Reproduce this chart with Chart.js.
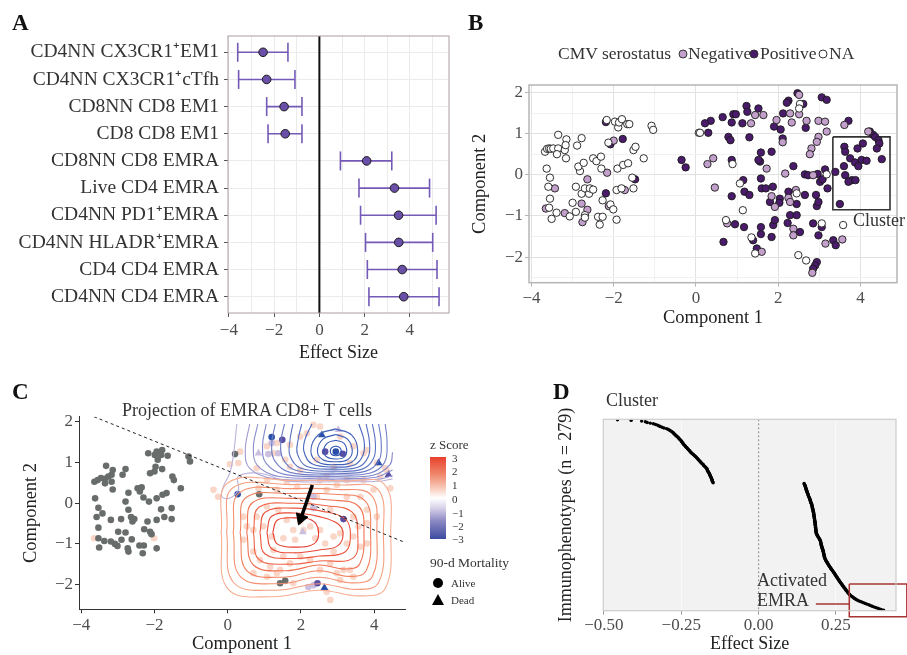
<!DOCTYPE html>
<html>
<head>
<meta charset="utf-8">
<script src="https://cdn.jsdelivr.net/npm/chart.js@4.4.1/dist/chart.umd.min.js"></script>
<style>
body { margin: 0; background: #fff; }
#wrap { position: relative; width: 907px; height: 655px; overflow: hidden; font-family: 'Liberation Serif', serif; color: #333; }
#wrap canvas { position: absolute; }
.t { position: absolute; white-space: nowrap; line-height: 1; transform: translateY(-50%); }
.letter { font-size: 23px; font-weight: bold; color: #111; }
.dot { position: absolute; width: 7px; height: 7px; border-radius: 50%; border: 1px solid #333; transform: translate(-50%, -50%); }
</style>
</head>
<body>
<div id="wrap">
  <canvas id="panelA" width="460" height="375" style="left:0;top:0"></canvas>
  <canvas id="panelB" width="457" height="330" style="left:450px;top:0"></canvas>
  <canvas id="panelC" width="520" height="280" style="left:0;top:375px"></canvas>
  <canvas id="panelD" width="387" height="280" style="left:520px;top:375px"></canvas>

  <div class="t letter" style="left:12px;top:22px">A</div>
  <div class="t letter" style="left:468px;top:22px">B</div>
  <div class="t letter" style="left:12px;top:391px">C</div>
  <div class="t letter" style="left:553px;top:391px">D</div>

  <!-- B legend -->
  <div class="t" style="left:558px;top:54px;font-size:17.5px">CMV serostatus</div>
  <div class="dot" style="left:683px;top:54px;background:#c3a0cb"></div>
  <div class="t" style="left:688px;top:54px;font-size:17.5px">Negative</div>
  <div class="dot" style="left:754px;top:54px;background:#4a1b6a"></div>
  <div class="t" style="left:760px;top:54px;font-size:17.5px">Positive</div>
  <div class="dot" style="left:823px;top:54px;background:#fff"></div>
  <div class="t" style="left:829px;top:54px;font-size:17.5px">NA</div>
  <div class="t" style="left:853px;top:220px;font-size:18px">Cluster</div>

  <!-- C title and legend -->
  <div class="t" style="left:247px;top:410px;font-size:18px;transform:translate(-50%,-50%)">Projection of EMRA CD8+ T cells</div>
  <div class="t" style="left:430px;top:444px;font-size:13px">z Score</div>
  <div style="position:absolute;left:430px;top:457px;width:16px;height:82px;background:linear-gradient(to bottom,#e8402d 0%,#f08a6e 22%,#f8cbbb 38%,#ffffff 50%,#d9d3ea 62%,#8c88c3 78%,#3c4b9f 100%)"></div>
  <div class="t" style="left:452px;top:458px;font-size:11px">3</div>
  <div class="t" style="left:452px;top:471px;font-size:11px">2</div>
  <div class="t" style="left:452px;top:485px;font-size:11px">1</div>
  <div class="t" style="left:452px;top:499px;font-size:11px">0</div>
  <div class="t" style="left:452px;top:513px;font-size:11px">&minus;1</div>
  <div class="t" style="left:452px;top:526px;font-size:11px">&minus;2</div>
  <div class="t" style="left:452px;top:539px;font-size:11px">&minus;3</div>
  <div class="t" style="left:430px;top:563px;font-size:13.5px">90-d Mortality</div>
  <div style="position:absolute;left:433px;top:578px;width:10px;height:10px;border-radius:50%;background:#000"></div>
  <div class="t" style="left:451px;top:583px;font-size:11px">Alive</div>
  <div style="position:absolute;left:432px;top:594px;width:0;height:0;border-left:6px solid transparent;border-right:6px solid transparent;border-bottom:11px solid #000"></div>
  <div class="t" style="left:451px;top:600px;font-size:11px">Dead</div>

  <!-- D labels -->
  <div class="t" style="left:606px;top:400px;font-size:18px">Cluster</div>
  <div class="t" style="left:757px;top:580px;font-size:18px">Activated</div>
  <div class="t" style="left:757px;top:600px;font-size:18px">EMRA</div>
</div>

<script>
// ---- panel A: effect sizes of immunophenotypes ----
const effectLabels = ['CD4NN CX3CR1\u207AEM1', 'CD4NN CX3CR1\u207AcTfh', 'CD8NN CD8 EM1', 'CD8 CD8 EM1',
  'CD8NN CD8 EMRA', 'Live CD4 EMRA', 'CD4NN PD1\u207AEMRA', 'CD4NN HLADR\u207AEMRA', 'CD4 CD4 EMRA', 'CD4NN CD4 EMRA'];
const effectEst = [-2.49, -2.33, -1.56, -1.51, 2.09, 3.32, 3.50, 3.51, 3.66, 3.73];
const effectLow = [-3.61, -3.57, -2.33, -2.27, 0.93, 1.75, 1.82, 2.04, 2.12, 2.19];
const effectHigh = [-1.39, -1.08, -0.77, -0.77, 3.20, 4.87, 5.16, 5.01, 5.20, 5.29];
const ticksA = [-4, -3, -2, -1, 0, 1, 2, 3, 4, 5];

// ---- panel B: CMV serostatus projection ----
const cmvNegative = [[-3.43,-0.33],[-3.65,-0.82],[-3.19,-0.93],[-2.76,-1.15],[-2.64,-0.85],[-2.78,-0.70],[-2.64,-0.11],
  [-2.16,0.05],[-2.12,-0.76],[-1.73,-0.37],[-2.0,0.83],[0.28,0.26],[2.51,1.94],[1.44,1.45],[1.64,1.45],[1.34,1.25],
  [2.29,1.49],[2.51,1.47],[1.96,1.33],[2.33,1.27],[2.69,1.31],[2.98,1.31],[3.14,1.29],[3.18,1.05],[2.98,0.92],[2.94,0.80],
  [2.81,0.64],[2.77,0.50],[3.61,1.21],[4.19,1.05],[2.11,0.79],[1.72,0.15],[2.17,0.03],[2.85,-0.01],[0.42,0.40],[0.46,-0.31],
  [1.84,-0.52],[1.92,-0.78],[2.25,-0.56],[2.43,-0.37],[2.29,-0.66],[0.76,-1.18],[2.37,-1.31],[2.37,-1.47],[3.15,-1.67],
  [3.56,-1.57],[1.60,-1.87],[2.83,-2.38]];
const cmvPositive = [[-2.19,-0.45],[-1.48,-0.11],[-2.19,1.28],[-2.08,0.74],[-1.78,0.87],[-0.35,0.36],[-0.25,0.18],
  [2.47,1.98],[2.25,1.80],[2.21,1.75],[2.61,1.72],[3.06,1.88],[3.18,1.82],[1.23,1.67],[1.52,1.61],[0.91,1.47],[0.97,1.47],
  [0.65,1.40],[0.36,1.31],[0.22,1.25],[0.87,1.27],[1.13,1.25],[1.25,1.53],[2.12,1.49],[1.90,1.17],[2.06,1.10],[2.67,1.14],
  [3.71,1.31],[4.23,1.05],[4.31,0.97],[4.36,0.92],[4.44,0.84],[4.46,0.76],[4.40,0.64],[4.52,0.38],[0.30,1.02],[0.79,0.92],
  [0.84,0.84],[1.30,0.91],[2.11,0.88],[1.58,0.54],[1.84,0.56],[1.56,0.32],[1.52,0.36],[2.37,0.21],[2.65,0.01],[2.73,-0.01],
  [2.96,0.02],[3.02,-0.17],[3.08,-0.11],[3.20,-0.33],[3.14,0.13],[3.39,0.07],[3.61,0.68],[3.63,0.56],[3.75,0.40],[3.60,0.21],
  [3.87,0.30],[4.03,0.36],[4.15,0.34],[4.06,0.76],[3.93,0.64],[3.95,0.21],[3.63,-0.01],[3.79,-0.13],[3.71,-0.17],[3.88,-0.13],
  [3.50,-0.71],[0.87,0.36],[1.15,-0.13],[0.87,-0.52],[1.18,-0.41],[1.30,-0.49],[1.58,-0.09],[1.60,-0.33],[1.70,-0.33],
  [1.87,-0.29],[1.80,-0.66],[2.04,-0.58],[2.03,-0.68],[2.25,-0.41],[2.45,-0.71],[2.65,-0.49],[2.92,-0.49],[2.94,-0.76],
  [2.98,-0.66],[0.95,-1.20],[1.17,-1.27],[1.58,-1.27],[1.88,-1.22],[1.92,-1.10],[2.23,-1.17],[2.29,-0.98],[2.45,-0.98],
  [2.53,-1.39],[2.85,-1.18],[3.06,-1.27],[2.98,-1.47],[3.34,-1.59],[3.40,-1.71],[0.67,-1.63],[1.39,-1.59],[1.58,-1.44],
  [1.48,-1.79],[1.84,-1.51],[2.94,-2.12],[2.90,-2.20],[2.85,-2.28]];
const cmvNA = [[-3.67,0.56],[-3.62,0.63],[-3.57,0.64],[-3.53,0.63],[-3.47,0.64],[-3.35,0.64],[-3.19,0.60],[-3.35,0.97],
  [-3.15,0.86],[-3.17,0.72],[-2.78,0.89],[-2.89,0.71],[-3.16,0.40],[-3.38,0.50],[-3.63,0.15],[-3.55,-0.07],[-3.59,-0.29],
  [-3.55,-0.58],[-3.57,-0.80],[-3.51,-1.07],[-3.39,-0.92],[-3.07,-1.01],[-2.92,-0.90],[-2.70,-0.98],[-2.70,-1.04],[-3.0,-0.68],
  [-2.92,-0.29],[-2.78,-0.46],[-2.70,-0.33],[-2.60,-0.46],[-2.58,-0.33],[-2.50,-0.36],[-2.82,0.09],[-2.86,0.20],[-2.73,0.29],
  [-2.50,0.40],[-2.42,0.33],[-2.31,0.44],[-2.30,0.15],[-2.38,-1.02],[-2.34,-1.21],[-2.27,-1.02],[-2.27,-0.62],[-2.08,-0.72],
  [-2.01,-0.84],[-1.93,-1.09],[-1.93,-0.37],[-1.91,0.15],[-1.81,-0.33],[-1.77,0.24],[-1.65,0.28],[-1.52,-0.33],[-1.55,-0.07],
  [-1.52,0.60],[-1.47,0.68],[-1.27,0.40],[-2.17,1.33],[-1.97,1.29],[-1.89,1.15],[-1.87,1.27],[-1.80,1.35],[-1.67,1.23],
  [-1.62,1.23],[-2.13,0.78],[-1.08,1.19],[-1.04,1.09],[0.07,1.02],[2.53,1.72],[2.51,1.61],[0.10,1.02],[0.89,0.26],[3.18,0.01],
  [1.07,-0.21],[2.45,-0.45],[1.14,-0.86],[0.73,-1.10],[3.06,-1.18],[3.58,-1.22],[1.35,-1.52],[1.44,-1.91],[2.49,-1.95],[2.68,-2.08]];
const clusterBox = [[3.33,0.92],[4.72,0.92],[4.72,-0.85],[3.33,-0.85],[3.33,0.92]];

// ---- panel C: EMRA CD8+ projection ----
const projGray = [[-2.17,1.23],[-1.94,1.27],[-1.79,1.31],[-1.82,1.19],[-1.99,1.19],[-1.64,1.17],[-1.91,1.07],[-1.97,0.90],
  [-1.79,0.84],[-2.0,0.78],[-2.12,0.74],[-1.07,1.15],[-1.03,1.03],[-3.32,0.92],[-3.14,0.82],[-2.79,0.84],[-2.87,0.70],
  [-3.17,0.70],[-3.46,0.62],[-3.55,0.57],[-3.64,0.53],[-3.35,0.60],[-3.26,0.66],[-3.17,0.53],[-3.35,0.49],[-3.14,0.34],
  [-1.51,0.66],[-1.47,0.57],[-1.28,0.37],[-2.46,0.37],[-2.35,0.39],[-2.40,0.29],[-2.71,0.26],[-2.79,0.04],[-2.30,0.14],
  [-2.15,0.04],[-1.94,0.12],[-1.78,0.21],[-1.67,0.25],[-3.62,0.12],[-3.53,-0.11],[-3.42,-0.25],[-3.58,-0.34],[-3.19,-0.41],
  [-2.91,-0.39],[-2.71,-0.16],[-2.64,-0.34],[-2.55,-0.39],[-2.60,-0.45],[-1.82,-0.15],[-1.53,-0.12],[-2.19,-0.45],
  [-1.94,-0.41],[-1.73,-0.34],[-1.53,-0.39],[-3.53,-0.60],[-2.99,-0.70],[-2.79,-0.72],[-2.28,-0.64],[-2.12,-0.70],
  [-2.08,-0.76],[-3.53,-0.86],[-3.37,-0.93],[-3.19,-0.94],[-3.08,-1.0],[-3.01,-1.05],[-2.90,-0.90],[-2.73,-1.11],
  [-2.62,-0.89],[-2.41,-1.04],[-2.29,-1.04],[-2.32,-1.23],[-1.94,-1.11],[-3.51,-1.09],[-2.71,-1.19],[0.20,1.21],[0.86,0.22],
  [1.43,-1.97],[1.57,-1.91]];
const projPeach = [[-3.65,-0.86],[-2.01,-0.86],[-0.39,0.33],[-0.26,0.16],[0.06,0.96],[0.29,0.99],[0.34,1.27],[0.79,0.86],
  [0.84,0.37],[0.43,-0.33],[0.79,-0.33],[0.52,-0.57],[0.70,-0.66],[0.43,-0.90],[0.97,-0.57],[1.20,-0.82],[1.25,-1.15],
  [1.52,-0.86],[1.61,-0.41],[1.79,-0.66],[1.84,-0.90],[1.98,-0.45],[2.07,-0.66],[2.25,-0.57],[2.39,-0.86],[2.52,-0.66],
  [2.66,-0.99],[2.89,-0.82],[3.07,-0.74],[3.25,-0.99],[3.43,-0.82],[3.62,-1.07],[3.80,-0.99],[3.57,-0.57],[3.80,-0.49],
  [3.62,0.16],[3.98,0.33],[4.16,0.66],[4.34,0.82],[4.44,0.37],[3.71,0.57],[3.25,0.57],[2.98,0.45],[2.70,0.33],[2.52,0.57],
  [2.43,0.16],[2.20,0.0],[1.89,0.41],[1.61,0.53],[1.34,0.33],[1.07,0.57],[1.07,-0.08],[1.38,-0.16],[0.70,-1.19],[0.88,-1.40],
  [1.16,-1.56],[1.43,-1.64],[1.70,-1.48],[1.98,-1.31],[2.25,-1.40],[2.52,-1.64],[2.80,-1.48],[2.98,-1.72],[3.16,-1.64],
  [3.34,-1.64],[3.43,-1.81],[2.80,-2.38],[2.70,-2.18],[3.07,-1.89],[1.79,-1.97],[1.34,-1.72],[0.70,-1.72],[1.07,-1.81],
  [1.52,-1.31],[2.89,-1.19],[3.80,-0.16],[4.07,-0.33],[3.43,-0.33],[3.25,0.16],[2.80,-0.16],[2.43,1.07],[2.16,1.72],
  [2.34,1.93],[1.34,1.48],[1.07,1.40],[1.25,1.23],[1.70,1.44],[1.98,1.64],[2.52,1.89],[3.07,1.64],[3.43,1.40],[3.80,1.31],
  [4.07,0.99],[2.89,0.90],[2.70,0.66],[3.34,0.99],[3.71,1.23],[1.70,0.90],[1.98,0.82],[1.57,1.07],[4.30,0.86]];
const projLavender = [[2.34,0.16],[2.34,-0.12],[1.20,1.48],[1.11,1.21],[1.38,1.23],[2.34,-2.02],[2.20,-2.06]];
const projBlue = [[1.20,1.63],[2.95,1.27],[0.27,0.22]];
const projPurple = [[1.49,1.56],[2.66,1.27],[3.14,1.22],[3.16,-0.39],[2.45,-1.97]];
const deadBlue = [[4.12,0.99],[2.64,-2.08],[2.57,1.68]];
const deadPurple = [[4.39,0.70]];
const deadLavender = [[0.84,1.23],[3.02,1.81],[2.05,-0.71],[2.34,-0.10]];
const splitLine = [[-3.65,2.13],[4.80,-0.95]];
const arrowLine = [[2.31,0.45],[2.0,-0.37]];

// density contours (blue = low z, red = high z)
const blueContours = [
  [[2.95,1.41],[3.06,1.37],[3.10,1.28],[3.06,1.20],[2.95,1.17],[2.84,1.20],[2.80,1.28],[2.84,1.37],[2.95,1.41]],
  [[2.95,1.55],[3.17,1.48],[3.25,1.28],[3.17,1.13],[2.95,1.09],[2.72,1.13],[2.62,1.28],[2.72,1.48],[2.95,1.55]],
  [[2.95,1.69],[3.27,1.58],[3.40,1.28],[3.27,1.07],[2.95,1.02],[2.60,1.07],[2.45,1.28],[2.60,1.58],[2.95,1.69]],
  [[2.95,1.83],[3.38,1.68],[3.55,1.28],[3.38,1.01],[2.95,0.95],[2.47,1.01],[2.27,1.28],[2.47,1.68],[2.95,1.83]],
  [[2.30,1.95],[2.12,1.60],[2.08,1.28],[2.30,0.97],[2.95,0.89],[3.47,0.95],[3.70,1.20],[3.72,1.55],[3.58,1.95]],
  [[2.02,1.95],[1.92,1.55],[1.90,1.22],[2.15,0.91],[2.95,0.84],[3.57,0.89],[3.84,1.15],[3.87,1.50],[3.78,1.95]],
  [[1.78,1.95],[1.70,1.55],[1.70,1.17],[2.00,0.86],[2.95,0.79],[3.67,0.84],[3.98,1.10],[4.03,1.50],[3.95,1.95]],
  [[1.55,1.95],[1.45,1.50],[1.50,1.11],[1.85,0.81],[2.95,0.74],[3.77,0.79],[4.13,1.05],[4.19,1.50],[4.12,1.95]],
  [[1.30,1.95],[1.20,1.45],[1.28,1.05],[1.70,0.76],[2.95,0.70],[3.87,0.74],[4.28,1.00],[4.35,1.50],[4.30,1.95]],
  [[1.05,1.95],[0.95,1.40],[1.05,0.98],[1.55,0.71],[2.95,0.66],[3.97,0.69],[4.43,0.95],[4.50,1.25]],
  [[0.82,1.95],[0.70,1.35],[0.82,0.92],[1.40,0.66],[2.95,0.62],[4.05,0.64],[4.50,0.82]],
  [[0.60,1.95],[0.48,1.30],[0.60,0.86],[1.25,0.61],[2.95,0.58],[4.10,0.59],[4.50,0.68]],
  [[0.25,1.95],[0.15,1.15],[0.06,0.75],[-0.12,0.41],[-0.16,0.16],[0.06,0.13],[0.29,0.33],[0.29,0.66],[0.88,0.74],[1.60,0.55],[2.95,0.53],[4.10,0.54],[4.50,0.60]]
];
const blueColors = ['#2f56b3','#3459b5','#3a5db7','#4161b9','#4a67bc','#536cbe','#5d72c1','#6878c4','#737fc7','#8087ca','#8e8fcd','#9e9ad2','#bcb2dc'];
const redContours = [
  [[1.23,-0.72],[1.35,-0.42],[1.80,-0.36],[2.30,-0.42],[2.48,-0.70],[2.35,-1.00],[1.80,-1.08],[1.35,-1.00],[1.23,-0.72]],
  [[1.07,-0.72],[1.20,-0.32],[1.80,-0.24],[2.50,-0.33],[3.00,-0.50],[3.15,-0.75],[3.00,-1.05],[2.50,-1.15],[1.80,-1.22],[1.20,-1.12],[1.07,-0.72]],
  [[0.88,-0.72],[1.02,-0.22],[1.80,-0.12],[2.60,-0.20],[3.20,-0.38],[3.35,-0.75],[3.20,-1.20],[2.50,-1.30],[1.80,-1.36],[1.02,-1.25],[0.88,-0.72]],
  [[0.70,-0.72],[0.85,-0.10],[1.80,0.00],[2.70,-0.06],[3.40,-0.22],[3.55,-0.75],[3.42,-1.35],[2.50,-1.42],[1.70,-1.50],[0.85,-1.38],[0.70,-0.72]],
  [[0.52,-0.72],[0.68,0.02],[1.80,0.12],[2.80,0.08],[3.58,-0.08],[3.72,-0.75],[3.60,-1.50],[3.20,-1.62],[2.50,-1.52],[1.60,-1.66],[0.70,-1.52],[0.52,-0.72]],
  [[0.34,-0.72],[0.50,0.14],[1.80,0.24],[2.90,0.22],[3.75,0.06],[3.90,-0.75],[3.78,-1.66],[3.30,-1.80],[2.50,-1.66],[1.50,-1.82],[0.52,-1.66],[0.34,-0.72]],
  [[0.15,-0.72],[0.32,0.26],[1.80,0.36],[3.00,0.34],[3.92,0.20],[4.07,-0.75],[3.95,-1.80],[3.40,-1.96],[2.50,-1.82],[1.40,-1.98],[0.34,-1.80],[0.15,-0.72]],
  [[-0.03,-0.72],[0.14,0.38],[1.80,0.46],[3.10,0.45],[4.10,0.34],[4.25,-0.75],[4.12,-1.95],[3.50,-2.12],[2.50,-1.98],[1.30,-2.14],[0.16,-1.95],[-0.03,-0.72]],
  [[-0.18,-0.72],[0.00,0.50],[1.80,0.56],[3.20,0.55],[4.28,0.46],[4.45,-0.75],[4.30,-2.10],[3.60,-2.28],[2.50,-2.14],[1.20,-2.30],[0.00,-2.10],[-0.18,-0.72]]
];
const redColors = ['#e63a2e','#e94734','#ec553d','#ee6347','#f07253','#f28160','#f4906f','#f59f80','#f7ae92'];

// ---- panel D: ranked cluster effect sizes (n = 279) ----
const rankedEffects = [
  -0.456,-0.412,-0.378,-0.366,-0.360,-0.350,-0.340,-0.333,-0.326,-0.322,-0.318,-0.312,-0.306,-0.298,-0.293,-0.289,-0.285,
  -0.282,-0.279,-0.276,-0.274,-0.272,-0.270,-0.267,-0.265,-0.262,-0.260,-0.258,-0.256,-0.254,-0.252,-0.250,-0.248,-0.247,
  -0.245,-0.244,-0.242,-0.240,-0.238,-0.236,-0.234,-0.232,-0.230,-0.228,-0.226,-0.224,-0.222,-0.220,-0.218,-0.216,-0.213,
  -0.210,-0.208,-0.206,-0.203,-0.201,-0.199,-0.197,-0.195,-0.193,-0.191,-0.189,-0.187,-0.185,-0.183,-0.180,-0.178,-0.177,
  -0.175,-0.172,-0.170,-0.168,-0.167,-0.166,-0.165,-0.164,-0.163,-0.161,-0.160,-0.159,-0.158,-0.157,-0.156,-0.155,-0.154,
  -0.153,-0.152,-0.151,-0.151,-0.150,-0.149,-0.148,-0.147,
  0.147,0.148,0.149,0.150,0.151,0.151,0.152,0.153,0.153,0.154,0.155,0.156,
  0.156,0.157,0.158,0.159,0.160,0.160,0.161,0.162,0.163,0.164,
  0.165,0.166,0.166,0.167,0.168,0.168,0.169,0.170,0.171,0.172,
  0.172,0.173,0.173,0.174,0.174,0.175,0.175,0.176,0.176,0.177,0.177,0.178,
  0.178,0.178,0.179,0.179,0.179,0.180,0.180,0.180,0.181,0.181,0.181,0.182,0.182,0.182,0.183,
  0.183,0.183,0.183,0.184,0.184,0.184,0.184,0.185,0.185,0.185,0.185,0.186,0.186,0.186,
  0.187,0.188,0.189,0.190,0.191,0.193,0.194,0.195,0.197,0.198,
  0.199,0.200,0.200,0.201,0.201,0.202,0.202,0.203,0.203,0.204,0.205,0.205,0.206,0.207,0.208,
  0.208,0.209,0.209,0.210,0.210,0.211,0.211,0.212,0.212,0.213,0.213,0.214,0.215,0.216,
  0.217,0.218,0.220,0.221,0.222,0.224,0.225,0.226,0.228,0.229,
  0.231,0.232,0.234,0.235,0.237,0.238,0.240,0.242,
  0.243,0.245,0.246,0.248,0.249,0.250,0.252,0.253,0.255,0.256,0.258,0.259,
  0.261,0.262,0.264,0.265,0.267,0.269,0.270,0.272,0.273,0.275,
  0.277,0.278,0.280,0.282,0.283,0.285,0.287,0.289,0.290,0.292,0.294,0.296,
  0.299,0.302,0.305,0.308,0.311,0.314,0.318,
  0.323,0.328,0.333,0.339,0.345,
  0.350,0.356,0.361,0.367,0.372,
  0.378,0.385,0.391,0.397,0.404];
const emraBox = [[0.293,240.7],[0.479,240.7],[0.479,288.4],[0.293,288.4],[0.293,240.7]];
const emraPointer = [[0.185,269.8],[0.293,269.8]];
const ticksD = [-0.5, -0.25, 0, 0.25];

// ---------- helpers ----------
Chart.defaults.font.family = "'Liberation Serif', serif";
Chart.defaults.color = '#4d4d4d';
Chart.defaults.animation = false;
Chart.defaults.plugins.legend.display = false;
Chart.defaults.plugins.tooltip.enabled = false;

Chart.register({
  id: 'frame',
  beforeDraw(chart, args, o) {
    if (!o.bg) return;
    const a = chart.chartArea, ctx = chart.ctx;
    ctx.save(); ctx.fillStyle = o.bg; ctx.fillRect(a.left, a.top, a.width, a.height); ctx.restore();
  },
  afterDraw(chart, args, o) {
    if (!o.color) return;
    const a = chart.chartArea, ctx = chart.ctx;
    ctx.save(); ctx.strokeStyle = o.color; ctx.lineWidth = o.width || 1;
    ctx.strokeRect(a.left, a.top, a.width, a.height); ctx.restore();
  }
});

const pts = arr => arr.map(([x, y]) => ({x, y}));
const fit = size => scale => { if (scale.isHorizontal()) scale.height = size; else scale.width = size; };
const setTicks = values => scale => { scale.ticks = values.map(v => ({value: v})); };
const fmt = v => (v < 0 ? '\u2212' : '') + Math.abs(v);
const fmt2 = v => (v < 0 ? '\u2212' : '') + Math.abs(v).toFixed(2);
const line = (arr, color, width, extra) => Object.assign({data: pts(arr), showLine: true, borderColor: color,
  borderWidth: width, pointRadius: 0, fill: false}, extra || {});
const dots = (arr, fill, r, border, bw, extra) => Object.assign({data: pts(arr), pointRadius: r, pointBackgroundColor: fill,
  pointBorderColor: border, pointBorderWidth: bw}, extra || {});

// ---------- A ----------
const rows = effectLabels.map((_, i) => i + 1);
new Chart(document.getElementById('panelA'), {
  type: 'scatter',
  data: {
    datasets: [
      ...rows.map((y, i) => line([[effectLow[i], y], [effectHigh[i], y]], '#7459b6', 1.6)),
      dots(rows.flatMap((y, i) => [[effectLow[i], y], [effectHigh[i], y]]), '#7459b6', 9.5, '#7459b6', 1.6,
        {pointStyle: 'line', pointRotation: 90}),
      line([[0, 0.4], [0, 10.6]], '#111', 2),
      dots(rows.map((y, i) => [effectEst[i], y]), '#6a4fa8', 4.3, '#1a1a1a', 1)
    ].map((d, i, all) => Object.assign(d, {order: all.length - i}))
  },
  options: {
    responsive: false,
    layout: {padding: {top: 36, right: 11, left: 0, bottom: 11.2}, autoPadding: false},
    plugins: {frame: {color: '#a99d9d', width: 1}},
    scales: {
      x: {
        type: 'linear', min: -4.04, max: 5.73, afterBuildTicks: setTicks(ticksA), afterFit: fit(50.8),
        grid: {color: '#ebebeb', tickLength: 4, tickColor: c => (c.tick && c.tick.value % 2 === 0) ? '#555' : 'rgba(0,0,0,0)'},
        border: {display: false},
        ticks: {font: {size: 17}, autoSkip: false, maxRotation: 0, callback: v => v % 2 === 0 ? fmt(v) : ''},
        title: {display: true, text: 'Effect Size', font: {size: 18}, color: '#222', padding: 0}
      },
      y: {
        type: 'linear', reverse: true, min: 0.4, max: 10.6, afterBuildTicks: setTicks(rows), afterFit: fit(228),
        grid: {color: '#ebebeb', tickLength: 4, tickColor: '#555'},
        border: {display: false},
        ticks: {font: {size: 19.5}, color: '#333', padding: 5, autoSkip: false, callback: v => effectLabels[v - 1]}
      }
    }
  }
});

// ---------- B ----------
new Chart(document.getElementById('panelB'), {
  type: 'scatter',
  data: {
    datasets: [
      dots(cmvNA, '#ffffff', 3.7, '#1a1a1a', 0.9),
      dots(cmvNegative, '#c3a0cb', 3.7, '#1a1a1a', 0.9),
      dots(cmvPositive, '#4a1b6a', 3.7, '#1a1a1a', 0.9),
      line(clusterBox, '#333', 1.6)
    ]
  },
  options: {
    responsive: false,
    layout: {padding: {top: 85, right: 10, left: 18.9, bottom: 0.9}, autoPadding: false},
    plugins: {frame: {color: '#b5b5b5', width: 1.5}},
    scales: {
      x: {
        type: 'linear', min: -4.06, max: 4.89, afterBuildTicks: setTicks([-4, -3, -2, -1, 0, 1, 2, 3, 4]), afterFit: fit(46.4),
        grid: {color: c => (c.tick && c.tick.value % 2 === 0) ? '#e2e2e2' : '#f1f1f1', tickLength: 4,
          tickColor: c => (c.tick && c.tick.value % 2 === 0) ? '#b5b5b5' : 'rgba(0,0,0,0)'},
        border: {display: false},
        ticks: {font: {size: 17}, autoSkip: false, maxRotation: 0, padding: 2, callback: v => v % 2 === 0 ? fmt(v) : ''},
        title: {display: true, text: 'Component 1', font: {size: 18.5}, color: '#222', padding: 0}
      },
      y: {
        type: 'linear', min: -2.62, max: 2.18, afterBuildTicks: setTicks([-2.5, -2, -1.5, -1, -0.5, 0, 0.5, 1, 1.5, 2]), afterFit: fit(60.1),
        grid: {color: c => (c.tick && Number.isInteger(c.tick.value)) ? '#e2e2e2' : '#f1f1f1', tickLength: 4,
          tickColor: c => (c.tick && Number.isInteger(c.tick.value)) ? '#b5b5b5' : 'rgba(0,0,0,0)'},
        border: {display: false},
        ticks: {font: {size: 17}, autoSkip: false, padding: 2, callback: v => Number.isInteger(v) ? fmt(v) : ''},
        title: {display: true, text: 'Component 2', font: {size: 18.5}, color: '#222', padding: 0}
      }
    }
  }
});

// ---------- C ----------
const contourSets = [
  ...redContours.map((c, i) => line(c, redColors[i], 1.1, {tension: 0.4})),
  ...blueContours.map((c, i) => line(c, blueColors[i], 1.1, {tension: 0.4}))
];
new Chart(document.getElementById('panelC'), {
  type: 'scatter',
  data: {
    datasets: [
      line(splitLine, '#222', 1, {borderDash: [3, 3]}),
      line(arrowLine, '#000', 3.5),
      dots([arrowLine[1]], '#000', 7, '#000', 1, {pointStyle: 'triangle', pointRotation: 200}),
      ...contourSets,
      dots(projBlue, '#2b4fa6', 3.3, '#2b4fa6', 0),
      dots(projPurple, '#5a4fa3', 3.3, '#5a4fa3', 0),
      dots(deadBlue, '#2b4fa6', 4.5, '#2b4fa6', 0, {pointStyle: 'triangle'}),
      dots(deadPurple, '#5a4fa3', 4.5, '#5a4fa3', 0, {pointStyle: 'triangle'}),
      dots(deadLavender, '#cbbfe0', 4.5, '#cbbfe0', 0, {pointStyle: 'triangle'}),
      dots(projLavender, '#cbbfe0', 3.3, '#cbbfe0', 0),
      dots(projGray, '#686d6b', 3.3, '#686d6b', 0),
      dots(projPeach, '#f9d6c7', 3.3, '#f9d6c7', 0)
    ].map((d, i) => Object.assign(d, {order: i}))
  },
  options: {
    responsive: false,
    layout: {padding: {top: 41.7, right: 115, left: 20, bottom: 0}, autoPadding: false},
    scales: {
      x: {
        type: 'linear', min: -4.06, max: 4.84, afterBuildTicks: setTicks([-4, -2, 0, 2, 4]), afterFit: fit(45.7),
        grid: {drawOnChartArea: false, tickLength: 4, tickColor: '#333'},
        border: {display: true, color: '#333', width: 1},
        ticks: {font: {size: 17}, autoSkip: false, maxRotation: 0, padding: 2, callback: v => fmt(v)},
        title: {display: true, text: 'Component 1', font: {size: 18.5}, color: '#222', padding: 0}
      },
      y: {
        type: 'linear', min: -2.61, max: 2.13, afterBuildTicks: setTicks([-2, -1, 0, 1, 2]), afterFit: fit(59),
        grid: {drawOnChartArea: false, tickLength: 4, tickColor: '#333'},
        border: {display: true, color: '#333', width: 1},
        ticks: {font: {size: 17}, autoSkip: false, padding: 2, callback: v => fmt(v)},
        title: {display: true, text: 'Component 2', font: {size: 18.5}, color: '#222', padding: 0}
      }
    }
  }
});

// ---------- D ----------
new Chart(document.getElementById('panelD'), {
  type: 'scatter',
  data: {
    datasets: [
      line(emraBox, '#a83434', 1.5, {clip: false}),
      line(emraPointer, '#a83434', 1.5, {clip: false}),
      dots(rankedEffects.map((v, i) => [v, i + 1]), '#000', 1.7, '#000', 0),
      line([[0, 0.4], [0, 279.6]], '#8a8a8a', 1, {borderDash: [2, 2]})
    ]
  },
  options: {
    responsive: false,
    layout: {padding: {top: 44.3, right: 11, left: 35.9, bottom: 0}, autoPadding: false},
    plugins: {frame: {color: '#cccccc', width: 1.2, bg: '#f2f2f2'}},
    scales: {
      x: {
        type: 'linear', min: -0.502, max: 0.444, afterBuildTicks: setTicks(ticksD), afterFit: fit(44.3),
        grid: {color: '#fafafa', tickLength: 4, tickColor: '#999'},
        border: {display: false},
        ticks: {font: {size: 17}, autoSkip: false, maxRotation: 0, padding: 1, callback: v => fmt2(v)},
        title: {display: true, text: 'Effect Size', font: {size: 18}, color: '#222', padding: 0}
      },
      y: {
        type: 'linear', reverse: true, min: 0.4, max: 279.6, afterFit: fit(47.4),
        grid: {display: false}, border: {display: false}, ticks: {display: false},
        title: {display: true, text: 'Immunophenotypes (n = 279)', font: {size: 18}, color: '#222', padding: 0}
      }
    }
  }
});
</script>
</body>
</html>
